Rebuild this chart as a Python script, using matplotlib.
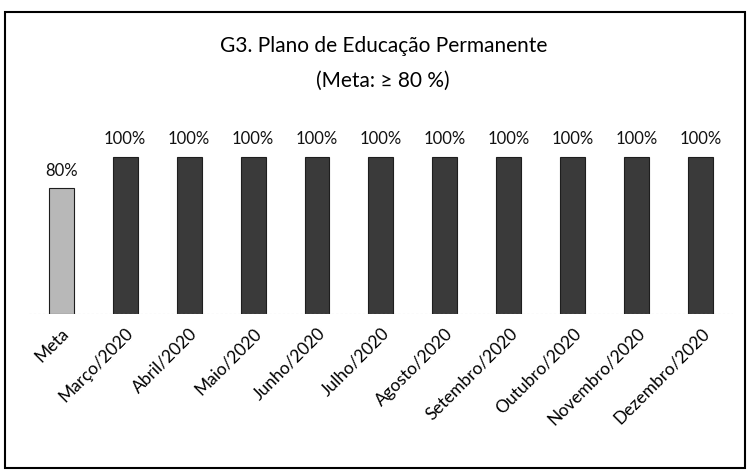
import matplotlib.pyplot as plt
from matplotlib.patches import Rectangle

plt.rcParams['font.family'] = ['Lato', 'DejaVu Sans']

# dados
categorias = ["Meta", "Março/2020", "Abril/2020", "Maio/2020", "Junho/2020",
              "Julho/2020", "Agosto/2020", "Setembro/2020", "Outubro/2020",
              "Novembro/2020", "Dezembro/2020"]
valores = [80, 100, 100, 100, 100, 100, 100, 100, 100, 100, 100]
rotulos = ["80%"] + ["100%"] * 10

cores = ["#b8b8b8"] + ["#3a3a3a"] * 10

fig = plt.figure(figsize=(7.47, 4.70), dpi=100)
ax = fig.add_axes([0.039, 0.332, 0.942, 0.413])

x = range(len(categorias))
ax.bar(x, valores, width=0.39, color=cores, edgecolor="#1e1e1e", linewidth=0.8)

for xi, v, r in zip(x, valores, rotulos):
    ax.text(xi, v + 6, r, ha="center", va="bottom", fontsize=12, color="#111111")

ax.axhline(0, color="#bbbbbb", lw=0.8, ls=(0, (2, 2)))

ax.set_xlim(-0.5, len(categorias) - 0.5)
ax.set_ylim(0, 123.6)
ax.set_yticks([])
ax.set_xticks(list(x))
ax.set_xticklabels(categorias, rotation=45, ha="right", rotation_mode="anchor",
                   fontsize=12.5)
ax.tick_params(axis="x", length=0, pad=8)
for s in ax.spines.values():
    s.set_visible(False)

fig.text(0.513, 0.903, "G3. Plano de Educação Permanente", ha="center", va="center",
         fontsize=15)
fig.text(0.513, 0.828, "(Meta: ≥ 80 %)", ha="center", va="center", fontsize=15)

# moldura
fig.patches.append(Rectangle((0.007, 0.005), 0.99, 0.97, transform=fig.transFigure,
                             fill=False, edgecolor="black", lw=1.5))

fig.savefig("out.png", dpi=100)
